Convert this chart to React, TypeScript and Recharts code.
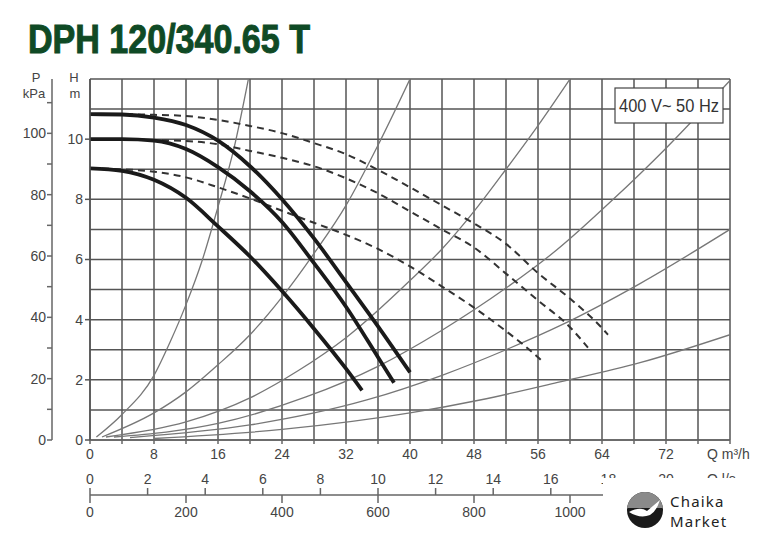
import { CartesianGrid, Line, LineChart, XAxis, YAxis } from "recharts";

// axis ticks / grid
const qGrid = [0, 4, 8, 12, 16, 20, 24, 28, 32, 36, 40, 44, 48, 52, 56, 60, 64, 68, 72, 76, 80];
const hGrid = [0, 1, 2, 3, 4, 5, 6, 7, 8, 9, 10, 11, 12];
const hTicks = [0, 2, 4, 6, 8, 10];
const pTicks = [0, 10, 20, 30, 40, 50, 60, 70, 80, 90, 100, 110];
const lsTicks = [0, 2, 4, 6, 8, 10, 12, 14, 16, 18, 20];
const lminTicks = [0, 200, 400, 600, 800, 1000];

// pump curves (solid)
const maxQ = [0, 4, 8, 12, 16, 20, 24, 28, 32, 36, 40];
const maxH = [10.83, 10.82, 10.72, 10.47, 9.95, 9.1, 8.0, 6.7, 5.25, 3.78, 2.25];
const midQ = [0, 4, 8, 12, 16, 20, 24, 28, 32, 36, 38];
const midH = [10.0, 10.0, 9.95, 9.67, 9.07, 8.27, 7.25, 5.88, 4.43, 2.75, 1.9];
const minQ = [0, 4, 8, 12, 16, 20, 24, 28, 32, 34];
const minH = [9.03, 8.95, 8.65, 8.05, 7.1, 6.1, 4.95, 3.7, 2.37, 1.65];

// pump curves (dashed)
const dMaxQ = [0, 4, 8, 12, 16, 20, 24, 28, 32, 36, 40, 44, 48, 52, 56, 60, 64, 64.75];
const dMaxH = [10.83, 10.83, 10.81, 10.77, 10.64, 10.44, 10.2, 9.87, 9.5, 8.98, 8.4, 7.8, 7.2, 6.52, 5.55, 4.7, 3.72, 3.5];
const dMidQ = [0, 4, 8, 12, 16, 20, 24, 28, 32, 36, 40, 44, 48, 52, 56, 60, 62.25];
const dMidH = [10.0, 10.0, 9.97, 9.94, 9.83, 9.61, 9.38, 9.1, 8.7, 8.2, 7.6, 7.0, 6.4, 5.53, 4.64, 3.75, 3.07];
const dMinQ = [0, 4, 8, 12, 16, 20, 24, 28, 32, 36, 40, 44, 48, 52, 56, 56.6];
const dMinH = [9.03, 9.0, 8.92, 8.73, 8.4, 8.03, 7.62, 7.22, 6.82, 6.35, 5.77, 5.1, 4.4, 3.62, 2.75, 2.6];

// system curves (thin grey)
const sysAQ = [0.8, 4, 8, 10, 12, 14, 16, 18, 19.8];
const sysAH = [0.1, 0.85, 2.15, 3.25, 4.5, 5.95, 7.75, 9.7, 12];
const sysBQ = [1.5, 8, 12, 16, 20, 24, 28, 32, 36, 40];
const sysBH = [0.1, 0.9, 1.6, 2.5, 3.5, 4.75, 6.2, 7.8, 9.8, 12];
const sysCQ = [2, 12, 20, 26, 32, 40, 44, 48, 52, 56, 60];
const sysCH = [0.1, 0.6, 1.4, 2.3, 3.4, 5.3, 6.35, 7.6, 9.0, 10.45, 12];
const sysDQ = [3, 16, 27, 36, 44, 52, 58.4, 65.4, 72, 80];
const sysDH = [0.1, 0.55, 1.43, 2.45, 3.65, 5.05, 6.33, 8.0, 9.7, 11.95];
const sysEQ = [5, 20, 34.6, 44, 52, 58.75, 68.75, 80];
const sysEH = [0.08, 0.5, 1.33, 2.15, 3.0, 3.8, 5.2, 7.0];
const sysFQ = [8, 24, 40, 48.75, 58.75, 68.75, 80];
const sysFH = [0.05, 0.35, 0.9, 1.33, 1.93, 2.57, 3.5];

const pts = (q: number[], h: number[]) => q.map((v, i) => ({ q: v, h: h[i] }));

const FONT = "'Liberation Sans', Arial, sans-serif";
const TXT = "#444";

const systems = [pts(sysAQ, sysAH), pts(sysBQ, sysBH), pts(sysCQ, sysCH), pts(sysDQ, sysDH), pts(sysEQ, sysEH), pts(sysFQ, sysFH)];
const dashed = [pts(dMaxQ, dMaxH), pts(dMidQ, dMidH), pts(dMinQ, dMinH)];
const solid = [pts(maxQ, maxH), pts(midQ, midH), pts(minQ, minH)];

function QTick(props: any) {
  const { x, y, payload } = props;
  const v = payload.value;
  if (v % 8 !== 0 || v >= 80) return <g />;
  return (
    <text x={x} y={y + 13} textAnchor="middle" fontSize={14} fill={TXT} fontFamily={FONT}>
      {v}
    </text>
  );
}

function LsTick(props: any) {
  const { x, y, payload } = props;
  return (
    <g>
      <line x1={x} x2={x} y1={y} y2={y - 7} stroke="#666" strokeWidth={1.5} />
      <text x={x} y={y - 11} textAnchor="middle" fontSize={14} fill={TXT} fontFamily={FONT}>
        {payload.value}
      </text>
    </g>
  );
}

function LminTick(props: any) {
  const { x, y, payload } = props;
  return (
    <g>
      <line x1={x} x2={x} y1={y - 1} y2={y + 7} stroke="#666" strokeWidth={1.5} />
      <text x={x} y={y + 21} textAnchor="middle" fontSize={14} fill={TXT} fontFamily={FONT}>
        {payload.value}
      </text>
    </g>
  );
}

export default function App() {
  return (
    <div style={{ position: "absolute", left: 0, top: 0, width: 780, height: 544, background: "#fff" }}>
      <LineChart width={780} height={544} margin={{ top: 79, right: 50, left: 14, bottom: 0 }}>
        <CartesianGrid
          xAxisId="a_q"
          yAxisId="h"
          stroke="#555"
          strokeWidth={1.5}
          verticalValues={qGrid}
          horizontalValues={hGrid}
        />
        <XAxis
          xAxisId="a_q"
          type="number"
          dataKey="q"
          domain={[0, 80]}
          ticks={qGrid}
          interval={0}
          allowDataOverflow
          height={55}
          tickSize={4}
          tickMargin={2}
          tick={<QTick />}
          stroke="#666"
          strokeWidth={1.5}
        />
        <XAxis
          xAxisId="b_ls"
          type="number"
          dataKey="q"
          domain={[0, 80 / 3.6]}
          ticks={lsTicks}
          interval={0}
          allowDataOverflow
          height={1}
          tickSize={0}
          tickMargin={0}
          tickLine={false}
          tick={<LsTick />}
          stroke="#666"
          strokeWidth={1.5}
        />
        <XAxis
          xAxisId="c_lmin"
          type="number"
          dataKey="q"
          domain={[0, 80 / 0.06]}
          ticks={lminTicks}
          interval={0}
          allowDataOverflow
          height={48}
          tickSize={0}
          tickMargin={0}
          tickLine={false}
          axisLine={false}
          tick={<LminTick />}
        />
        <YAxis
          yAxisId="h"
          type="number"
          domain={[0, 12]}
          ticks={hTicks}
          interval={0}
          allowDataOverflow
          width={38}
          tickSize={5}
          tickMargin={2}
          tick={{ fontSize: 14, fill: TXT, fontFamily: FONT }}
          stroke="#555"
          strokeWidth={1.5}
        />
        <YAxis
          yAxisId="p"
          type="number"
          domain={[0, 12 * 9.81]}
          ticks={pTicks}
          interval={0}
          allowDataOverflow
          width={38}
          tickSize={5}
          tickMargin={1}
          tickFormatter={(v: number) => (v % 20 === 0 ? String(v) : "")}
          tick={{ fontSize: 14, fill: TXT, fontFamily: FONT }}
          stroke="#666"
          strokeWidth={1.5}
        />
        {/* invisible carriers so the secondary flow axes get their own domain */}
        <Line
          data={lsTicks.map((v) => ({ q: v, h: 0 }))}
          xAxisId="b_ls"
          yAxisId="h"
          dataKey="h"
          stroke="none"
          dot={false}
          legendType="none"
          isAnimationActive={false}
        />
        <Line
          data={lminTicks.map((v) => ({ q: v, h: 0 }))}
          xAxisId="c_lmin"
          yAxisId="h"
          dataKey="h"
          stroke="none"
          dot={false}
          legendType="none"
          isAnimationActive={false}
        />
        {systems.map((d, i) => (
          <Line
            key={"s" + i}
            data={d}
            xAxisId="a_q"
            yAxisId="h"
            dataKey="h"
            type="monotone"
            stroke="#777"
            strokeWidth={1.3}
            dot={false}
            isAnimationActive={false}
          />
        ))}
        {dashed.map((d, i) => (
          <Line
            key={"d" + i}
            data={d}
            xAxisId="a_q"
            yAxisId="h"
            dataKey="h"
            type="monotone"
            stroke="#333"
            strokeWidth={2}
            strokeDasharray="7 5"
            dot={false}
            isAnimationActive={false}
          />
        ))}
        {solid.map((d, i) => (
          <Line
            key={"p" + i}
            data={d}
            xAxisId="a_q"
            yAxisId="h"
            dataKey="h"
            type="monotone"
            stroke="#1a1a1a"
            strokeWidth={3.8}
            dot={false}
            isAnimationActive={false}
          />
        ))}
      </LineChart>
      <svg width={780} height={544} style={{ position: "absolute", left: 0, top: 0, pointerEvents: "none" }}>
        <text
          x={28}
          y={53}
          fontSize={40}
          fontWeight={900}
          fill="#0f4a25"
          stroke="#0f4a25"
          strokeWidth={1}
          fontFamily="'Liberation Sans Narrow', 'Liberation Sans', sans-serif"
          textLength={282}
          lengthAdjust="spacingAndGlyphs"
        >
          DPH 120/340.65 T
        </text>
        <g fontFamily={FONT} fontSize={13} fill={TXT}>
          <text x={36} y={82} textAnchor="middle">P</text>
          <text x={34} y={98} textAnchor="middle">kPa</text>
          <text x={74} y={82} textAnchor="middle">H</text>
          <text x={75} y={98} textAnchor="middle">m</text>
        </g>
        <g fontFamily={FONT} fontSize={14} fill={TXT}>
          <text x={707} y={459}>Q m³/h</text>
          <text x={707} y={484}>Q l/s</text>
        </g>
        <rect x={615} y={88} width={108} height={35} fill="#fff" stroke="#444" strokeWidth={1.2} />
        <text x={669} y={112} textAnchor="middle" fontSize={18} fill="#333" fontFamily={FONT} textLength={100} lengthAdjust="spacingAndGlyphs">
          400 V~ 50 Hz
        </text>
        <rect x={603} y={478} width={177} height={66} fill="#fff" />
        <clipPath id="logoTop">
          <rect x={620} y={488} width={50} height={20} />
        </clipPath>
        <circle cx={645} cy={510} r={18} fill="#1a1a1a" />
        <circle cx={645} cy={510} r={18} fill="#8a8a8a" clipPath="url(#logoTop)" />
        <path d="M629 512 Q640 506 647 511 L660 500 Q656 512 650 515 Q640 519 629 512 Z" fill="#fff" />
        <g fontFamily="'Noto Sans', 'DejaVu Sans', sans-serif" fontSize={15} fill="#222" letterSpacing={1.2}>
          <text x={670} y={507}>Chaika</text>
          <text x={670} y={527}>Market</text>
        </g>
      </svg>
    </div>
  );
}
